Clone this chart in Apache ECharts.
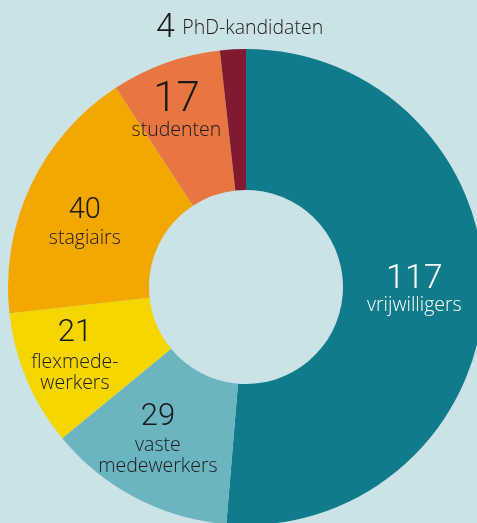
<!DOCTYPE html>
<html>
<head>
<meta charset="utf-8">
<script src="https://cdn.jsdelivr.net/npm/echarts@6/dist/echarts.min.js"></script>
<style>
html,body{margin:0;padding:0;background:#cbe3e7;}
#c{width:477px;height:523px;}
</style>
</head>
<body>
<div id="c"></div>
<script>
// data
var categories = ['vrijwilligers', 'vaste\nmedewerkers', 'flexmede-\nwerkers', 'stagiairs', 'studenten', 'PhD-kandidaten'];
var values = [117, 29, 21, 40, 17, 4];

// styles (separate from data)
var colors = ['#0f7b8b', '#6bb5c1', '#f5d600', '#f2a800', '#e87642', '#801a2e'];
var textColors = ['#ffffff', '#1a1a1a', '#1a1a1a', '#1a1a1a', '#1a1a1a', '#1a1a1a'];
var numSizes = [34, 31, 31, 29, 42, 34];
var numLineHeights = [31, 35, 37, 35, 39, 30];
var labelOffsets = [[-2, -4.5], [-9, 0], [-14, 1], [-7, 7], [-12, -15.5], [3, -88]];

var chart = echarts.init(document.getElementById('c'), null, {renderer: 'canvas'});
var data = values.map(function (v, i) {
  var last = i === values.length - 1;
  return {
    value: v,
    name: categories[i],
    itemStyle: {color: colors[i]},
    label: {
      offset: labelOffsets[i],
      formatter: last ? '{n|{c}} {t|{b}}' : '{n|{c}}\n{t|{b}}',
      rich: {
        n: {fontFamily: 'Roboto', fontWeight: 300, fontSize: numSizes[i], lineHeight: numLineHeights[i], color: textColors[i], padding: last ? [0, 4, 0, 0] : 0},
        t: {fontFamily: 'Open Sans', fontWeight: 300, fontSize: 19.5, lineHeight: 21, color: textColors[i]}
      }
    }
  };
});

chart.setOption({
  backgroundColor: '#cbe3e7',
  animation: false,
  series: [{
    type: 'pie',
    center: [246, 287],
    radius: [97, 238],
    startAngle: 90,
    clockwise: true,
    avoidLabelOverlap: false,
    itemStyle: {borderWidth: 0},
    label: {show: true, position: 'inside', align: 'center'},
    labelLine: {show: false},
    data: data
  }]
});
</script>
</body>
</html>
